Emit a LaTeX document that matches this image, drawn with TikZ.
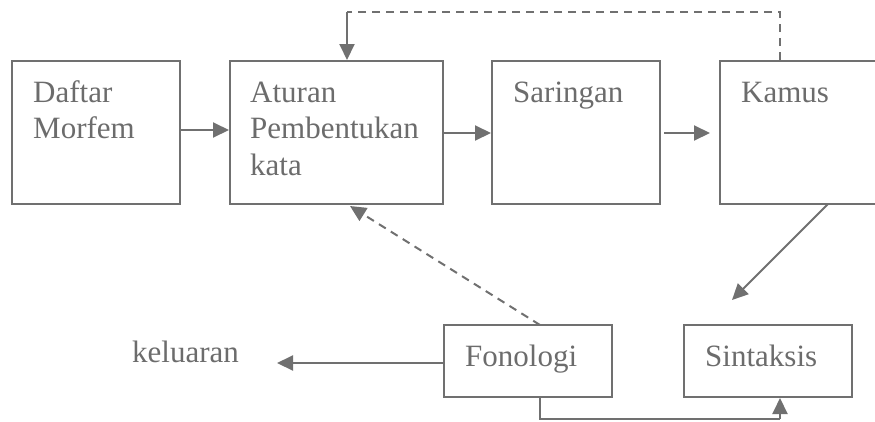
\documentclass[tikz,border=0pt]{standalone}
\usepackage{fontspec}
\setmainfont{Liberation Serif}
\usetikzlibrary{arrows.meta}

\definecolor{linegray}{HTML}{707070}
\definecolor{textgray}{HTML}{6C6C6C}

\tikzset{
  box/.style={draw=linegray, line width=2pt, inner sep=0pt, minimum height=143pt},
  smallbox/.style={draw=linegray, line width=2pt, inner sep=0pt, minimum width=168pt, minimum height=72pt},
  txt/.style={anchor=base west, inner sep=0pt, text=textgray, font=\fontsize{31}{36.5}\selectfont, align=left},
  link/.style={draw=linegray, line width=2pt, -{Triangle[length=16pt,width=15pt]}},
  plain/.style={draw=linegray, line width=2pt},
  dashline/.style={draw=linegray, line width=2pt, dash pattern=on 8pt off 6pt}
}

\begin{document}
\begin{tikzpicture}[x=1pt, y=-1pt]
  \useasboundingbox (0,0) rectangle (875,421);
  % the boxes of the top row
  \node[box, minimum width=168pt] (daftar) at (96,132.5) {};
  \node[box, minimum width=213pt] (aturan) at (336.5,132.5) {};
  \node[box, minimum width=168pt] (saringan) at (576,132.5) {};
  \node[box, minimum width=160pt] (kamus) at (800,132.5) {};
  % the boxes of the bottom row
  \node[smallbox] (fonologi) at (528,361) {};
  \node[smallbox] (sintaksis) at (768,361) {};
  % texts (base = last line)
  \node[txt] (daftar-t) at (33,138.5) {Daftar\\Morfem};
  \node[txt] (aturan-t) at (250,175) {Aturan\\Pembentukan\\kata};
  \node[txt] (saringan-t) at (513,102) {Saringan};
  \node[txt] (kamus-t) at (741,102) {Kamus};
  \node[txt] (fonologi-t) at (465,366) {Fonologi};
  \node[txt] (sintaksis-t) at (705,366) {Sintaksis};
  \node[txt] (keluaran) at (132,362) {keluaran};
  % free ends
  \coordinate (top-r) at (780,12);
  \coordinate (top-l) at (347,12);
  \coordinate (fon-n) at (540,325);
  \coordinate (atu-s) at (350,206);
  \coordinate (kam-s) at (828,204);
  \coordinate (sin-n) at (732,300);
  \coordinate (kel-e) at (277,363);
  \coordinate (bot-l) at (540,419);
  \coordinate (bot-r) at (780,419);
  % connectors
  \draw[link] (daftar.east |- 0,130) -- (aturan.west |- 0,130);
  \draw[link] (aturan.east |- 0,133) -- (saringan.west |- 0,133);
  \draw[link, shorten <=3pt, shorten >=9pt] (saringan.east |- 0,133) -- (kamus.west |- 0,133);
  \draw[dashline] (kamus.north -| top-r) -- (top-r) -- (top-l);
  \draw[link] (top-l) -- (aturan.north -| top-l);
  \draw[dashline, -{Triangle[length=16pt,width=15pt]}] (fon-n) -- (atu-s);
  \draw[link] (kam-s) -- (sin-n);
  \draw[link] (fonologi.west |- kel-e) -- (kel-e);
  \draw[plain] (fonologi.south -| bot-l) -- (bot-l) -- (bot-r);
  \draw[link] (bot-r) -- (sintaksis.south -| bot-r);
\end{tikzpicture}
\end{document}
